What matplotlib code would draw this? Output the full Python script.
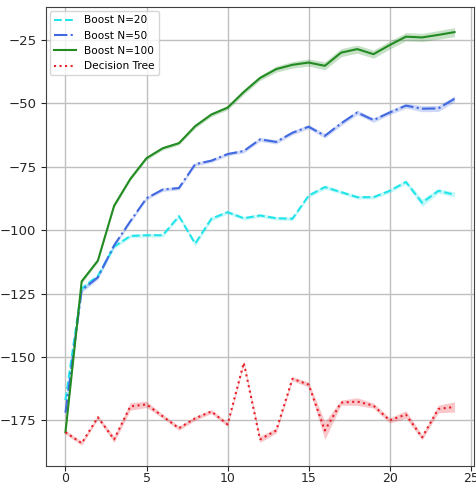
import numpy as np
import matplotlib
matplotlib.use("Agg")
import matplotlib.pyplot as plt

steps = np.arange(25)

boost20 = [-167, -123, -118, -106.5, -102.3, -102, -102, -94.5, -105.3, -95.5, -92.9,
           -95.3, -94.2, -95.3, -95.5, -86.4, -83, -85, -87, -87, -84.5, -81, -89.2, -84.5, -86]
boost50 = [-172, -123.7, -118.6, -106, -96.5, -87.4, -84, -83.4, -74, -72.6, -70,
           -68.8, -64.2, -65.2, -61.6, -59.2, -62.8, -57.9, -53.6, -56.6, -53.6, -50.9, -52.1, -52, -48.2]
boost100 = [-179.7, -120.2, -112, -90.4, -79.8, -71.6, -67.7, -65.7, -59, -54.4, -51.7,
            -45.5, -40, -36.5, -34.8, -33.9, -35.2, -30, -28.6, -30.6, -27, -23.7, -24, -23, -21.9]
tree = [-179.7, -184, -173.8, -182.5, -169.5, -168.7, -173.4, -178.1, -174.2, -171.5, -176.6,
        -152.3, -182.5, -179, -158.6, -160.9, -179, -168, -167.6, -169.2, -175, -172.7, -181.7, -170.5, -169.7]

# half width of the shaded band around each curve
band20 = [1.5, 0.8, 0.8, 0.8, 0.7, 0.7, 0.7, 0.8, 1.0, 0.8, 0.7,
          0.7, 0.7, 0.7, 0.7, 0.8, 0.8, 0.7, 0.7, 0.7, 0.8, 0.8, 1.5, 0.9, 1.0]
band50 = [1.5, 0.8, 0.8, 0.8, 0.7, 0.7, 0.7, 0.7, 0.7, 0.7, 0.7,
          0.7, 0.8, 0.8, 0.8, 0.8, 0.9, 0.9, 0.9, 0.9, 0.9, 1.0, 1.2, 1.2, 1.2]
band100 = [0.8, 0.7, 0.7, 0.7, 0.7, 0.7, 0.7, 0.7, 0.8, 0.8, 0.9,
           1.0, 1.0, 1.2, 1.3, 1.4, 1.6, 1.6, 1.6, 1.6, 1.6, 1.6, 1.6, 1.7, 1.8]
band_tree = [0.8, 0.8, 0.8, 1.2, 1.5, 1.2, 0.8, 0.8, 0.8, 0.8, 0.8,
             0.8, 1.2, 1.0, 0.8, 1.0, 3.5, 1.0, 1.5, 1.0, 1.0, 1.5, 1.0, 1.5, 2.0]

series = [
    ("Boost N=20", boost20, band20, "#22e5ea", "--"),
    ("Boost N=50", boost50, band50, "royalblue", "-."),
    ("Boost N=100", boost100, band100, "forestgreen", "-"),
    ("Decision Tree", tree, band_tree, "#e8202a", ":"),
]

plt.rcParams["font.family"] = "DejaVu Sans"
plt.rcParams["font.size"] = 9.5

fig = plt.figure(figsize=(4.77, 4.86), dpi=100)
ax = fig.add_axes([46 / 477, 20 / 486, 428 / 477, 459 / 486])

for name, vals, band, color, ls in series:
    vals = np.array(vals)
    band = np.array(band)
    ax.fill_between(steps, vals - band, vals + band, color=color, alpha=0.25, linewidth=0)
    ax.plot(steps, vals, linestyle=ls, color=color, linewidth=1.5, label=name)

ax.set_xlim(-1.2, 25.2)
ax.set_ylim(-193, -12)
ax.set_xticks([0, 5, 10, 15, 20, 25])
ax.set_yticks([-175, -150, -125, -100, -75, -50, -25])
ax.grid(True, color="#c0c0c0", linewidth=1)
ax.set_axisbelow(True)
ax.tick_params(colors="#262626", labelcolor="#262626")
ax.tick_params(axis="x", pad=1, labelsize=9)
for sp in ax.spines.values():
    sp.set_color("#404040")
ax.legend(loc="upper left", fontsize=7.6, borderaxespad=0.4)

fig.savefig("out.png", dpi=100)
